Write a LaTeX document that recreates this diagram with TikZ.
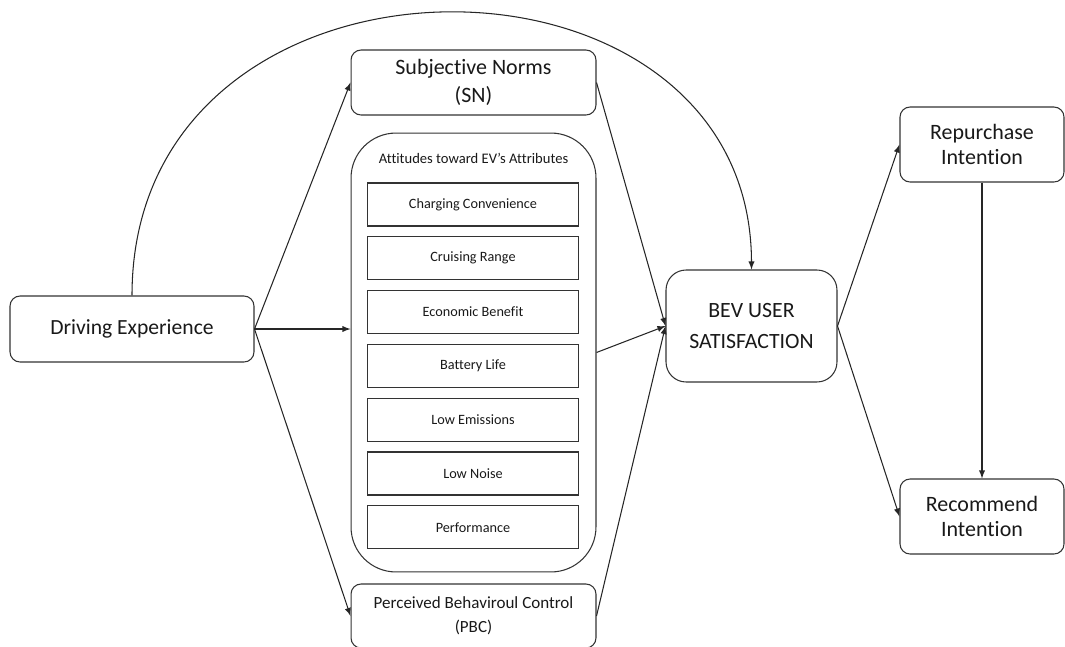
\documentclass[tikz,border=0pt]{standalone}
\usepackage{fontspec}
\setmainfont{Carlito}[Ligatures=NoCommon]
\usepackage{tikz}

\tikzset{
	box/.style={draw=black!80, line width=0.6pt, rounded corners=0.2cm, align=center, text=black!90, inner sep=0pt},
	attrbox/.style={draw=black!80, line width=0.6pt, minimum width=4.22cm, minimum height=0.86cm, inner sep=0pt, text=black!90, font=\fontsize{8.1}{10}\selectfont},
	link/.style={-latex, line width=0.6pt, draw=black!85},
}

\begin{document}
\begin{tikzpicture}[x=0.02cm, y=-0.02cm]
		\useasboundingbox (0,0) rectangle (1065,646);
		% left and middle column
		\node[box, minimum width=4.88cm, minimum height=1.32cm, font=\fontsize{12.3}{15}\selectfont] (drive) at (132,329) {Driving Experience};
		\node[box, minimum width=4.9cm, minimum height=1.3cm, font=\fontsize{12.5}{16}\selectfont] (sn) at (473.5,82.5) {Subjective Norms\\(SN)};
		\node[box, rounded corners=0.9cm, minimum width=4.9cm, minimum height=8.78cm] (att) at (473.5,352.5) {};
		\node[text=black!90, font=\fontsize{8.3}{10}\selectfont] (atttitle) at (473.5,158) {Attitudes toward EV’s Attributes};
		\foreach \name [count=\i] in {Charging Convenience, Cruising Range, Economic Benefit, Battery Life, Low Emissions, Low Noise, Performance} {
			\node[attrbox] (attr\i) at (473, {204.5+53.8*(\i-1)}) {\name};
		}
		\node[box, minimum width=4.9cm, minimum height=1.28cm, font=\fontsize{9.7}{13.6}\selectfont] (pbc) at (473.5,616) {Perceived Behaviroul Control\\(PBC)};
		% outcome side
		\node[box, rounded corners=0.4cm, minimum width=3.42cm, minimum height=2.24cm, font=\fontsize{12.4}{18}\selectfont] (bev) at (751.5,326) {BEV USER\\SATISFACTION};
		\node[box, minimum width=3.28cm, minimum height=1.5cm, font=\fontsize{12.5}{14.7}\selectfont] (rep) at (982,144.5) {Repurchase\\Intention};
		\node[box, minimum width=3.28cm, minimum height=1.5cm, font=\fontsize{12.5}{14.7}\selectfont] (rec) at (982,516.5) {Recommend\\Intention};

		\draw[link] (drive.east) -- (sn.west);
		\draw[link] (drive.east) -- (drive.east -| att.west);
		\draw[link] (drive.east) -- (pbc.west);
		\draw[link] (drive.north) .. controls (132,-77) and (751,-77) .. (bev.north);
		\draw[link] (sn.east) -- (bev.west);
		\draw[link] (att.east) -- (bev.west);
		\draw[link] (pbc.east) -- (bev.west);
		\draw[link] (bev.east) -- (rep.west);
		\draw[link] (bev.east) -- (rec.west);
		\draw[link] (rep.south) -- (rec.north);
	\end{tikzpicture}
\end{document}
